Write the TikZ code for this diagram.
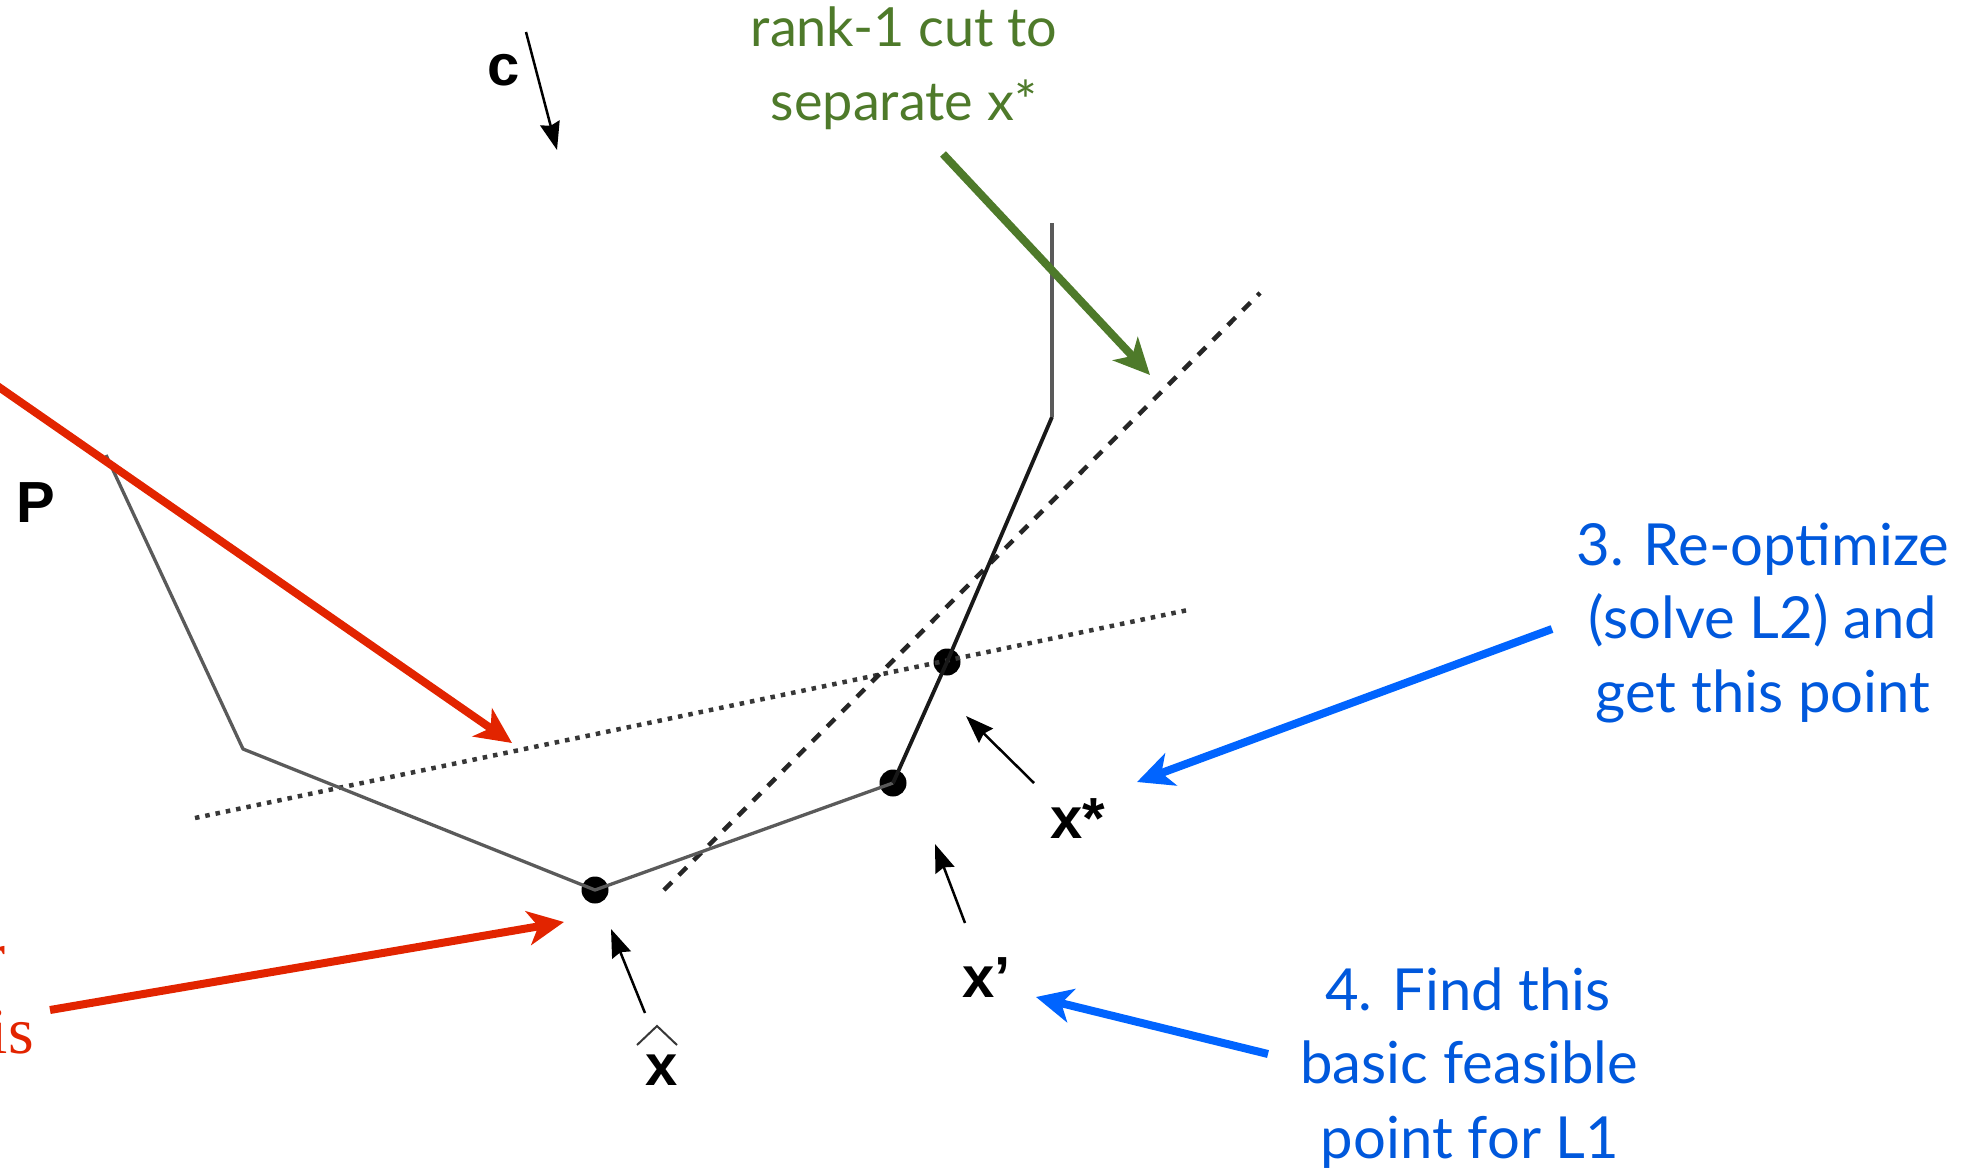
\documentclass[tikz,border=0pt]{standalone}
\usepackage{fontspec}
\setmainfont{Liberation Serif}
\newfontfamily\gill{Lato}
\newfontfamily\helv{Liberation Sans}
\usetikzlibrary{arrows.meta}
\definecolor{redA}{RGB}{226,36,0}
\definecolor{greenA}{RGB}{78,122,42}
\definecolor{blueA}{RGB}{0,100,255}
\definecolor{blueT}{RGB}{0,88,220}
\definecolor{grayL}{RGB}{90,90,90}
\definecolor{grayD}{RGB}{55,55,55}
\tikzset{
  bigarr/.style={line width=8pt, -{Stealth[length=36pt,width=34pt,inset=10pt]}},
  redarr/.style={bigarr, draw=redA, color=redA},
  greenarr/.style={bigarr, draw=greenA, color=greenA},
  bluearr/.style={bigarr, draw=blueA, color=blueA},
  smallarr/.style={line width=2.5pt, draw=grayD, -{Stealth[length=28pt,width=20pt,inset=3pt]}, color=black},
  gtxt/.style={anchor=base, inner sep=0pt, text=greenA, font=\gill\fontsize{54}{70}\selectfont},
  btxt/.style={anchor=base, inner sep=0pt, text=blueT, font=\gill\fontsize{58}{74}\selectfont},
  rtxt/.style={anchor=base east, inner sep=0pt, text=redA, font=\fontsize{66}{76}\selectfont},
  lab/.style={anchor=base, inner sep=0pt, font=\helv\bfseries\fontsize{58}{60}\selectfont},
  vdot/.style={circle, fill=black, inner sep=0pt, minimum size=27pt},
  polythin/.style={line width=3.3pt, draw=grayL, line join=round},
  polythick/.style={line width=3.8pt, draw=black!90, line join=round},
}
\begin{document}
\begin{tikzpicture}[x=1pt,y=-1pt]
\useasboundingbox (0,0) rectangle (1983,1172);
\clip (0,0) rectangle (1983,1172);
% polytope vertices
\coordinate (v1) at (106,455);
\coordinate (v2) at (243,749);
\coordinate (v6) at (1052,417);
\coordinate (v7) at (1052,223);
\node[vdot] (xh) at (595,890) {};
\node[vdot] (xp) at (893,783) {};
\node[vdot] (xs) at (947,662) {};
% cut lines
\coordinate (d1) at (195,818);
\coordinate (d2) at (1188,610);
\draw[line width=4.5pt, draw=grayD, dash pattern=on 4.5pt off 6pt] (d1) -- (d2);
\coordinate (e1) at (664,890);
\coordinate (e2) at (1260,293);
\draw[line width=4.5pt, draw=black!85, dash pattern=on 11pt off 10pt] (e1) -- (e2);
% polytope edges
\draw[polythin] (v1) -- (v2) -- (xh.center) -- (xp.center);
\draw[polythick] (xp.center) -- (xs.center) -- (v6);
\draw[polythin] (v6) -- (v7);
% labels
\node[lab] (lc) at (504,85) {c};
\node[lab] (lP) at (36,522) {P};
\node[lab] (lxh) at (662,1085) {x};
\draw[line width=2pt, draw=grayD] (637,1045) -- (657,1026) -- (677,1045);
\node[lab, anchor=base west] (lxp) at (962,997) {x’};
\node[lab, anchor=base west] (lxs) at (1050,838) {x*};
% small black arrows
\coordinate (cs) at (526,32);
\coordinate (ct) at (557,150);
\draw[smallarr] (cs) -- (ct);
\coordinate (ah) at (645,1013);
\coordinate (ahT) at (611,929);
\draw[smallarr] (ah) -- (ahT);
\coordinate (ap) at (965,923);
\coordinate (apT) at (935,844);
\draw[smallarr] (ap) -- (apT);
\coordinate (as) at (1034,783);
\coordinate (asT) at (966,716);
\draw[smallarr] (as) -- (asT);
% green annotation
\node[gtxt] (g1) at (904,47) {rank-1 cut to};
\node[gtxt] (g2) at (904,120) {separate x*};
\coordinate (gs) at (943,154);
\coordinate (gt) at (1150,375);
\draw[greenarr] (gs) -- (gt);
% blue annotation 3
\node[btxt] (b31) at (1763,565) {3. Re-optimize};
\node[btxt] (b32) at (1763,638) {(solve L2) and};
\node[btxt] (b33) at (1763,712) {get this point};
\coordinate (b3s) at (1552,629);
\coordinate (b3t) at (1137,782);
\draw[bluearr] (b3s) -- (b3t);
% blue annotation 4
\node[btxt] (b41) at (1468,1010) {4. Find this};
\node[btxt] (b42) at (1469,1083) {basic feasible};
\node[btxt] (b43) at (1470,1158) {point for L1};
\coordinate (b4s) at (1268,1054);
\coordinate (b4t) at (1036,997);
\draw[bluearr] (b4s) -- (b4t);
% red annotations (text runs off the left edge, as in the reference)
\node[rtxt] (r1) at (6,977) {r};
\node[rtxt] (r2) at (34,1053) {is};
\coordinate (r1s) at (-30,367);
\coordinate (r1t) at (512,743);
\draw[redarr] (r1s) -- (r1t);
\coordinate (r2s) at (50,1010);
\coordinate (r2t) at (564,922);
\draw[redarr] (r2s) -- (r2t);
\end{tikzpicture}
\end{document}
